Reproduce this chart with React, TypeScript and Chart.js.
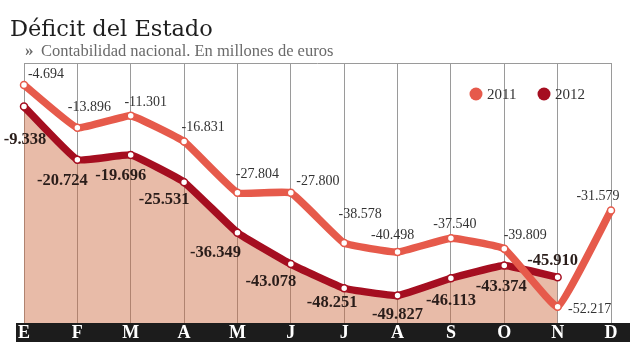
import React, { useEffect, useRef } from "react";
import { Chart, registerables } from "chart.js";

Chart.register(...registerables);

const months = ["E", "F", "M", "A", "M", "J", "J", "A", "S", "O", "N", "D"];
const series2011 = [-4694, -13896, -11301, -16831, -27804, -27800, -38578, -40498, -37540, -39809, -52217, -31579];
const series2012 = [-9338, -20724, -19696, -25531, -36349, -43078, -48251, -49827, -46113, -43374, -45910, null];
const legendLabels = ["2011", "2012"];
const titleText = "Déficit del Estado";
const subtitleText = "Contabilidad nacional. En millones de euros";

// label placement (offset of text centre from its point), layout only
const labelOffsets2011 = [[22, -11], [12, -21], [15, -13], [19, -14], [20, -18], [27, -11], [16, -29], [-5, -17], [4, -14], [21, -13], [32, 3], [-13, -14]];
const labelOffsets2012 = [[1, 33], [-15, 21], [-10, 21], [-20, 18], [-22, 20], [-20, 18], [-12, 15], [0, 19], [0, 22], [-3, 21], [-5, -17], [0, 0]];

const C2011 = "#e65a4b";
const C2012 = "#a50e20";

function fmt(v: number): string {
  const a = Math.abs(v).toString();
  const s = a.replace(/\B(?=(\d{3})+(?!\d))/g, ".");
  return (v < 0 ? "-" : "") + s;
}

const decorPlugin = {
  id: "decor",
  beforeDraw(chart: any) {
    const { ctx, chartArea } = chart;
    ctx.save();
    ctx.fillStyle = "#fff";
    ctx.fillRect(0, 0, chart.width, chart.height);
    // title
    ctx.fillStyle = "#1e1e1e";
    ctx.font = "22.5px 'DejaVu Serif'";
    ctx.textBaseline = "alphabetic";
    ctx.textAlign = "left";
    ctx.fillText(titleText, 10, 36);
    // subtitle
    ctx.fillStyle = "#6a6a6a";
    ctx.font = "bold 17px 'Liberation Serif'";
    ctx.fillText("»", 25, 56);
    ctx.font = "16.5px 'Liberation Serif'";
    ctx.fillText(subtitleText, 41, 56);
    // bottom bar
    ctx.fillStyle = "#1c1c1c";
    ctx.fillRect(16, chartArea.bottom, 614, 19);
    ctx.restore();
  },
  afterDatasetsDraw(chart: any) {
    const { ctx, chartArea, scales } = chart;
    ctx.save();
    const drawLabels = (dsIndex: number, offs: number[][], font: string, color: string) => {
      const meta = chart.getDatasetMeta(dsIndex);
      const data = chart.data.datasets[dsIndex].data;
      ctx.font = font;
      ctx.fillStyle = color;
      ctx.textAlign = "center";
      ctx.textBaseline = "middle";
      meta.data.forEach((pt: any, i: number) => {
        const v = data[i];
        if (v === null || v === undefined) return;
        ctx.fillText(fmt(v), pt.x + offs[i][0], pt.y + offs[i][1]);
      });
    };
    drawLabels(1, labelOffsets2012, "bold 16.5px 'Liberation Serif'", "#2a1d1a");
    drawLabels(0, labelOffsets2011, "14px 'Liberation Serif'", "#333");
    // month labels
    ctx.fillStyle = "#fff";
    ctx.font = "bold 18px 'Liberation Serif'";
    ctx.textAlign = "center";
    ctx.textBaseline = "middle";
    months.forEach((m, i) => {
      const x = scales.x.getPixelForValue(i);
      ctx.fillText(m, x, chartArea.bottom + 10.5);
    });
    // legend
    const ly = 94;
    const items = [
      { x: 476, c: C2011, t: legendLabels[0] },
      { x: 544, c: C2012, t: legendLabels[1] },
    ];
    items.forEach((it) => {
      ctx.beginPath();
      ctx.fillStyle = it.c;
      ctx.arc(it.x, ly, 6.5, 0, Math.PI * 2);
      ctx.fill();
      ctx.fillStyle = "#333";
      ctx.font = "15px 'Liberation Serif'";
      ctx.textAlign = "left";
      ctx.textBaseline = "middle";
      ctx.fillText(it.t, it.x + 11, ly + 1);
    });
    ctx.restore();
  },
};

export default function App() {
  const ref = useRef<HTMLCanvasElement>(null);
  useEffect(() => {
    document.body.style.margin = "0";
    const chart = new Chart(ref.current as HTMLCanvasElement, {
      type: "line",
      data: {
        labels: months,
        datasets: [
          {
            label: legendLabels[0],
            data: series2011,
            borderColor: C2011,
            borderWidth: 7.5,
            borderJoinStyle: "round",
            pointRadius: 3.5,
            pointBorderWidth: 1.5,
            pointBackgroundColor: "#fff",
            pointBorderColor: C2011,
            tension: 0.1,
            fill: false,
            clip: false as any,
          },
          {
            label: legendLabels[1],
            data: series2012,
            borderColor: C2012,
            borderWidth: 7.5,
            borderJoinStyle: "round",
            pointRadius: 3.5,
            pointBorderWidth: 1.5,
            pointBackgroundColor: "#fff",
            pointBorderColor: C2012,
            backgroundColor: "rgba(205,105,62,0.45)",
            tension: 0.1,
            fill: "start",
            clip: false as any,
          },
        ],
      },
      options: {
        responsive: false,
        animation: false,
        layout: { padding: { left: 24, right: 33, top: 63, bottom: 39 } },
        plugins: { legend: { display: false }, tooltip: { enabled: false }, title: { display: false } },
        scales: {
          x: {
            type: "category",
            offset: false,
            ticks: { display: false },
            grid: { color: "#9a9a9a", lineWidth: 1, drawTicks: false },
            border: { display: false },
          },
          y: {
            min: -55700,
            max: 0,
            ticks: { display: false, stepSize: 10000 },
            grid: {
              drawTicks: false,
              color: (c: any) => (c.tick && c.tick.value === 0 ? "#9a9a9a" : "rgba(0,0,0,0)"),
            },
            border: { display: false },
          },
        },
      },
      plugins: [decorPlugin],
    });
    return () => chart.destroy();
  }, []);
  return (
    <div style={{ position: "fixed", left: 0, top: 0, width: 644, height: 362 }}>
      <canvas ref={ref} width={644} height={362} style={{ width: 644, height: 362, display: "block" }} />
    </div>
  );
}
